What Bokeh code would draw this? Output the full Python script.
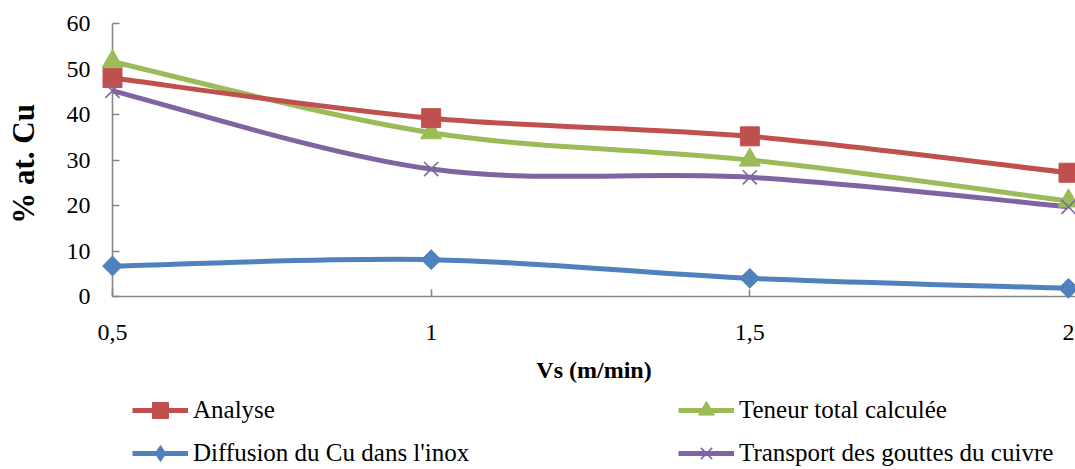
import numpy as np
from bokeh.plotting import figure
from bokeh.layouts import column
from bokeh.models import FixedTicker, Legend, LegendItem, ColumnDataSource, Range1d
from bokeh.embed import file_html
from bokeh.resources import INLINE

# ---- data ----
vs = [0.5, 1.0, 1.5, 2.0]
analyse = [48.0, 39.2, 35.2, 27.2]
teneur = [51.6, 36.0, 30.0, 21.0]
diffusion = [6.7, 8.1, 4.0, 1.8]
transport = [45.2, 28.0, 26.2, 19.7]

x_ticks = [0.5, 1.0, 1.5, 2.0]
x_tick_labels = ["0,5", "1", "1,5", "2"]
y_ticks = [0, 10, 20, 30, 40, 50, 60]

names = ["Analyse", "Teneur total calculée", "Diffusion du Cu dans l'inox",
         "Transport des gouttes du cuivre"]
colors = ["#C0504D", "#9BBB59", "#4F81BD", "#8064A2"]

FONT = "Liberation Serif"
W, H = 1075, 469
H_MAIN = 394
H_LEG = H - H_MAIN
AX_LEFT_PX, AX_RIGHT_PX = 112, 1068   # where x=0.5 and x=2 sit
FRAME_LEFT, FRAME_TOP, FRAME_BOTTOM = 112, 23, 296
ROW2_Y = 453                          # page y of the second legend row

x0v, x1v = x_ticks[0], x_ticks[-1]
ppu = (AX_RIGHT_PX - AX_LEFT_PX) / (x1v - x0v)
x_end = x1v + (W - AX_RIGHT_PX) / ppu

series = [analyse, teneur, diffusion, transport]
markers = [dict(marker="square", size=19),
           dict(marker="triangle", size=21),
           dict(marker="square", size=14, angle=np.pi / 4),
           dict(marker="x", size=20, line_width=1.6)]
legend_markers = [dict(marker="square", size=19),
                  dict(marker="triangle", size=21),
                  dict(marker="diamond", size=21),
                  dict(marker="x", size=20, line_width=1.6)]


def smooth_segments(x, y):
    """Bezier control points (Catmull-Rom style, like spreadsheet smoothing)."""
    n = len(x)
    d = dict(x0=[], y0=[], x1=[], y1=[], cx0=[], cy0=[], cx1=[], cy1=[])
    for i in range(n - 1):
        im1 = max(i - 1, 0)
        ip2 = min(i + 2, n - 1)
        d["x0"].append(x[i]); d["y0"].append(y[i])
        d["x1"].append(x[i + 1]); d["y1"].append(y[i + 1])
        d["cx0"].append(x[i] + (x[i + 1] - x[im1]) / 6.0)
        d["cy0"].append(y[i] + (y[i + 1] - y[im1]) / 6.0)
        d["cx1"].append(x[i + 1] - (x[ip2] - x[i]) / 6.0)
        d["cy1"].append(y[i + 1] - (y[ip2] - y[i]) / 6.0)
    return ColumnDataSource(d)


def add_series(fig, i, mk_spec, level="glyph"):
    src = smooth_segments(vs, series[i])
    br = fig.bezier(x0="x0", y0="y0", x1="x1", y1="y1", cx0="cx0", cy0="cy0",
                    cx1="cx1", cy1="cy1", source=src, line_color=colors[i],
                    line_width=5)
    m = dict(mk_spec)
    mk = m.pop("marker")
    if mk == "x":
        sr = fig.scatter(vs, series[i], marker=mk, line_color=colors[i],
                         level=level, **m)
    else:
        sr = fig.scatter(vs, series[i], marker=mk, fill_color=colors[i],
                         line_color=colors[i], level=level, **m)
    return br, sr


# ---------------- main chart ----------------
p = figure(width=W, height=H_MAIN, output_backend="svg", toolbar_location=None,
           x_range=Range1d(x0v, x_end), y_range=Range1d(0, 60),
           min_border_left=FRAME_LEFT, min_border_right=0,
           min_border_top=FRAME_TOP, min_border_bottom=H_MAIN - FRAME_BOTTOM)
p.outline_line_color = None
p.xgrid.visible = False
p.ygrid.visible = False

for i in [2, 1, 0, 3]:
    add_series(p, i, markers[i], level="overlay")

for ax in (p.xaxis[0], p.yaxis[0]):
    ax.axis_line_color = "#868686"
    ax.axis_line_width = 1.6
    ax.major_tick_line_color = "#868686"
    ax.major_tick_line_width = 1.6
    ax.major_tick_in = 7
    ax.major_tick_out = 0
    ax.minor_tick_line_color = None
    ax.major_label_text_font = FONT
    ax.major_label_text_font_size = "24px"
    ax.major_label_text_color = "black"
    ax.axis_label_text_font = FONT
    ax.axis_label_text_font_style = "bold"
    ax.axis_label_text_color = "black"

p.xaxis.ticker = FixedTicker(ticks=x_ticks)
p.xaxis.major_label_overrides = {t: l for t, l in zip(x_ticks, x_tick_labels)}
p.xaxis.major_label_standoff = 28
p.xaxis.axis_label = "Vs (m/min)"
p.xaxis.axis_label_text_font_size = "24px"
p.xaxis.axis_label_standoff = 14

p.yaxis.ticker = FixedTicker(ticks=y_ticks)
p.yaxis.major_label_standoff = 22
p.yaxis.axis_label = "% at.  Cu"
p.yaxis.axis_label_text_font_size = "31px"
p.yaxis.axis_label_standoff = 23

# ---------------- legend strip ----------------
pl = figure(width=W, height=H_LEG, output_backend="svg", toolbar_location=None,
            x_range=Range1d(0, 1), y_range=Range1d(-1000, -999),
            x_axis_location=None, y_axis_location=None,
            min_border_left=0, min_border_right=0, min_border_top=0,
            min_border_bottom=0)
pl.outline_line_color = None
pl.xgrid.visible = False
pl.ygrid.visible = False

items = []
for i in range(4):
    br, sr = add_series(pl, i, legend_markers[i])
    items.append(LegendItem(label=names[i], renderers=[br, sr]))

LEG_X, COL2_X = 132, 678
GW, GH, STANDOFF, SP = 56, 40, 5, 3
legend_bottom = (ROW2_Y - H_MAIN) + GH // 2
legend = Legend(items=items, orientation="horizontal", ncols=2,
                location=(LEG_X - FRAME_LEFT, H_LEG - legend_bottom),
                padding=0, spacing=SP,
                margin=0, glyph_width=GW, glyph_height=GH,
                label_standoff=STANDOFF,
                label_width=COL2_X - LEG_X - GW - STANDOFF - SP,
                label_text_font=FONT, label_text_font_size="25px",
                label_text_color="black",
                border_line_color=None, background_fill_alpha=0)
pl.add_layout(legend, "center")

layout = column(p, pl, spacing=0)
open("out.html", "w").write(file_html(layout, INLINE))
